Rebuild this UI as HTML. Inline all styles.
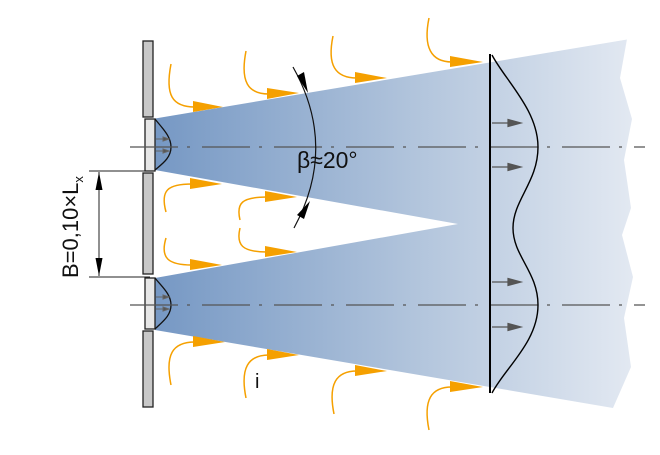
<!DOCTYPE html>
<html><head><meta charset="utf-8"><style>
html,body{margin:0;padding:0;background:#fff;}
svg{display:block;}
text{font-family:"Liberation Sans",sans-serif;}
</style></head><body>
<svg width="660" height="455" viewBox="0 0 660 455" xmlns="http://www.w3.org/2000/svg">
<defs>
<linearGradient id="g" x1="155" y1="0" x2="635" y2="0" gradientUnits="userSpaceOnUse">
<stop offset="0" stop-color="#7698c4"/>
<stop offset="0.5" stop-color="#adc1da"/>
<stop offset="1" stop-color="#e3e9f2"/>
</linearGradient>
</defs>
<polygon fill="url(#g)" points="155,118 627,39 620,78 632,119 624,160 631,208 622,235 633,277 624,318 631,367 613,408 155,330 155,278 458,224 155,170"/>
<line x1="155" y1="118" x2="627" y2="39" stroke="#fff" stroke-width="1"/>
<g stroke="#222" stroke-width="1.3">
<rect x="143" y="41" width="10" height="76" fill="#c8c8c8"/>
<rect x="145" y="119" width="10" height="52" fill="#e6e6e6"/>
<rect x="143" y="173" width="10" height="101" fill="#c8c8c8"/>
<rect x="145" y="278" width="10" height="51" fill="#e6e6e6"/>
<rect x="143" y="331" width="10" height="76" fill="#c8c8c8"/>
</g>
<path d="M155,119 C162,128 171,136 171,147 C171,158 162,164 155,170" fill="none" stroke="#111" stroke-width="1.3"/>
<path d="M155,278 C162,287 171,294 171,305 C171,316 162,322 155,329" fill="none" stroke="#111" stroke-width="1.3"/>
<g stroke="#666" stroke-width="1" fill="#555">
<line x1="156" y1="139" x2="166" y2="139"/><polygon points="163,137 169,139 163,141"/>
<line x1="156" y1="151" x2="166" y2="151"/><polygon points="163,149 169,151 163,153"/>
<line x1="156" y1="297" x2="166" y2="297"/><polygon points="163,295 169,297 163,299"/>
<line x1="156" y1="309" x2="166" y2="309"/><polygon points="163,307 169,309 163,311"/>
</g>
<g stroke="#555" stroke-width="1.2" stroke-dasharray="48 9 3 12">
<line x1="130" y1="147" x2="645" y2="147"/>
<line x1="130" y1="305" x2="645" y2="305"/>
</g>
<line x1="490" y1="54" x2="490" y2="393" stroke="#000" stroke-width="2"/>
<path d="M492,55 C505,80 538,110 538,147 C538,182 513,200 513,228 C513,256 538,272 538,305 C538,342 505,368 492,393" fill="none" stroke="#000" stroke-width="1.4"/>
<g stroke="#555" stroke-width="1.2" fill="#555">
<line x1="492" y1="123" x2="512" y2="123"/><polygon points="508,119.5 521,123 508,126.5"/>
<line x1="492" y1="167" x2="512" y2="167"/><polygon points="508,163.5 521,167 508,170.5"/>
<line x1="492" y1="282" x2="512" y2="282"/><polygon points="508,278.5 521,282 508,285.5"/>
<line x1="492" y1="327" x2="512" y2="327"/><polygon points="508,323.5 521,327 508,330.5"/>
</g>
<g fill="none" stroke="#f5a000" stroke-width="1.5">
<path d="M171,64 C165,95 172,107 195,107"/>
<path d="M246,51 C240,82 248,94 269,94"/>
<path d="M333,36 C327,65 335,78 357,78"/>
<path d="M429,18 C423,47 431,62 452,62"/>
<path d="M166,212 C160,190 168,184 192,184"/>
<path d="M240,220 C236,203 242,197 267,197"/>
<path d="M166,238 C160,258 168,265 192,265"/>
<path d="M240,228 C236,245 242,252 267,252"/>
<path d="M171,385 C165,355 172,342 195,342"/>
<path d="M246,398 C240,368 248,355 269,355"/>
<path d="M334,414 C328,384 336,371 357,371"/>
<path d="M429,430 C423,400 431,387 452,387"/>
</g>
<g fill="#f5a000">
<polygon points="193,101 193,112 223,107"/>
<polygon points="267,88 267,99 299,93"/>
<polygon points="355,72 355,83 387,78"/>
<polygon points="450,56 450,67 483,62"/>
<polygon points="190,178 190,189 222,184"/>
<polygon points="265,191 265,202 297,197"/>
<polygon points="190,259 190,270 222,265"/>
<polygon points="265,246 265,257 297,252"/>
<polygon points="193,336 193,347 225,342"/>
<polygon points="267,349 267,360 299,355"/>
<polygon points="355,365 355,376 387,371"/>
<polygon points="450,381 450,392 483,387"/>
</g>
<path d="M293,67 Q338,147 294,228" fill="none" stroke="#111" stroke-width="1.2"/>
<polygon points="297,76 304,72 308,93" fill="#000"/>
<polygon points="297,215 304,219 310,201" fill="#000"/>
<text x="297" y="168" font-size="23" fill="#111">β≈20°</text>
<text x="255" y="388" font-size="20" fill="#111">i</text>
<g stroke="#222" stroke-width="1">
<line x1="89" y1="171" x2="150" y2="171"/>
<line x1="89" y1="277" x2="150" y2="277"/>
<line x1="99" y1="172" x2="99" y2="276"/>
</g>
<polygon points="99,172 95.5,190 102.5,190" fill="#000"/>
<polygon points="99,276 95.5,258 102.5,258" fill="#000"/>
<text transform="translate(78,278) rotate(-90)" font-size="22" fill="#111">B=0,10×L<tspan font-size="13" dy="5">x</tspan></text>
</svg>
</body></html>
